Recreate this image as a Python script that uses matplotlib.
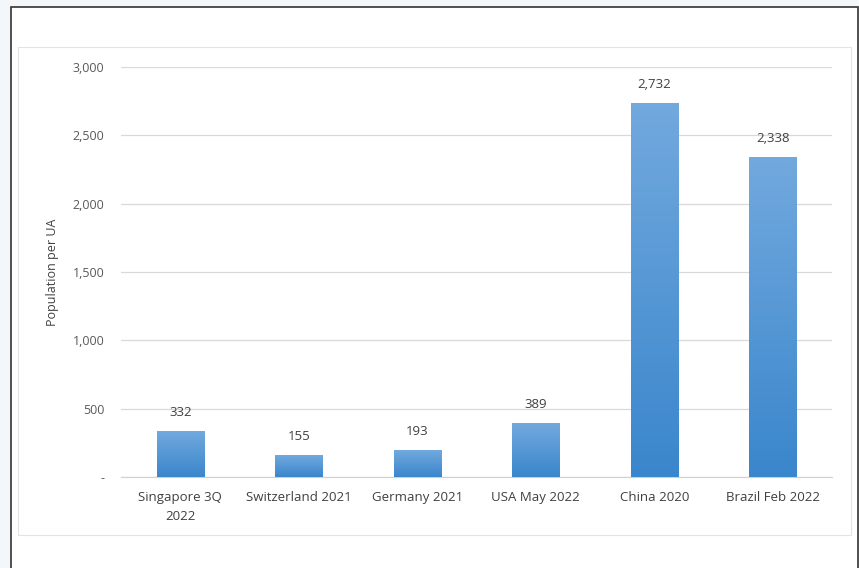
import matplotlib.pyplot as plt
import numpy as np
from matplotlib.patches import Rectangle
from matplotlib.ticker import FuncFormatter
from matplotlib.colors import LinearSegmentedColormap

plt.rcParams['font.family'] = ['Open Sans', 'DejaVu Sans']

categories = ['Singapore 3Q\n2022', 'Switzerland 2021', 'Germany 2021',
              'USA May 2022', 'China 2020', 'Brazil Feb 2022']
values = [332, 155, 193, 389, 2732, 2338]
yticks = [0, 500, 1000, 1500, 2000, 2500, 3000]

fig = plt.figure(figsize=(8.59, 5.68), dpi=100)
fig.patch.set_facecolor('#f3f7fa')

W, H = 859, 568
# outer dark frame
fig.add_artist(Rectangle((11 / W, -0.01), (858 - 11) / W, 1.01 - 7 / H,
                         transform=fig.transFigure, facecolor='white',
                         edgecolor='#333333', linewidth=1.2, zorder=0))
# inner chart panel
fig.add_artist(Rectangle((18 / W, 1 - 535 / H), (851 - 18) / W, (535 - 47) / H,
                         transform=fig.transFigure, facecolor='white',
                         edgecolor='#e3e3e3', linewidth=0.8, zorder=0))

ax = fig.add_axes([121 / W, 1 - 477 / H, (832 - 121) / W, (477 - 67) / H])
ax.set_facecolor('none')

x = np.arange(len(values))
bw = 0.4
bars = ax.bar(x, values, width=bw, color='none', zorder=3)

# vertical gradient fill for each bar
grad = np.linspace(0, 1, 256).reshape(-1, 1)
cmap = LinearSegmentedColormap.from_list('bluegrad', ['#3a86cc', '#72a9de'])
for b in bars:
    x0, w, h = b.get_x(), b.get_width(), b.get_height()
    ax.imshow(grad, extent=(x0, x0 + w, 0, h), origin='lower', cmap=cmap,
              aspect='auto', zorder=3)

for xi, v in zip(x, values):
    ax.annotate(f'{v:,}', (xi, v), xytext=(0, 9), textcoords='offset points',
                ha='center', va='bottom', fontsize=9.5, color='#404040')

ax.set_xlim(-0.5, len(values) - 0.5)
ax.set_ylim(0, 3000)
ax.set_yticks(yticks)
ax.yaxis.set_major_formatter(FuncFormatter(lambda v, p: '-' if v == 0 else f'{int(v):,}'))
ax.set_xticks(x)
ax.set_xticklabels(categories, fontsize=9.5, color='#404040', linespacing=1.6)
ax.tick_params(axis='y', labelsize=9, colors='#595959', length=0, pad=12)
ax.tick_params(axis='x', length=0, pad=10)
ax.grid(axis='y', color='#d9d9d9', linewidth=0.9, zorder=0)
for s in ['top', 'right', 'left']:
    ax.spines[s].set_visible(False)
ax.spines['bottom'].set_color('#d0d0d0')
ax.set_ylabel('Population per UA', fontsize=9, color='#404040', labelpad=10)

fig.savefig('out.png', dpi=100, facecolor=fig.get_facecolor())
